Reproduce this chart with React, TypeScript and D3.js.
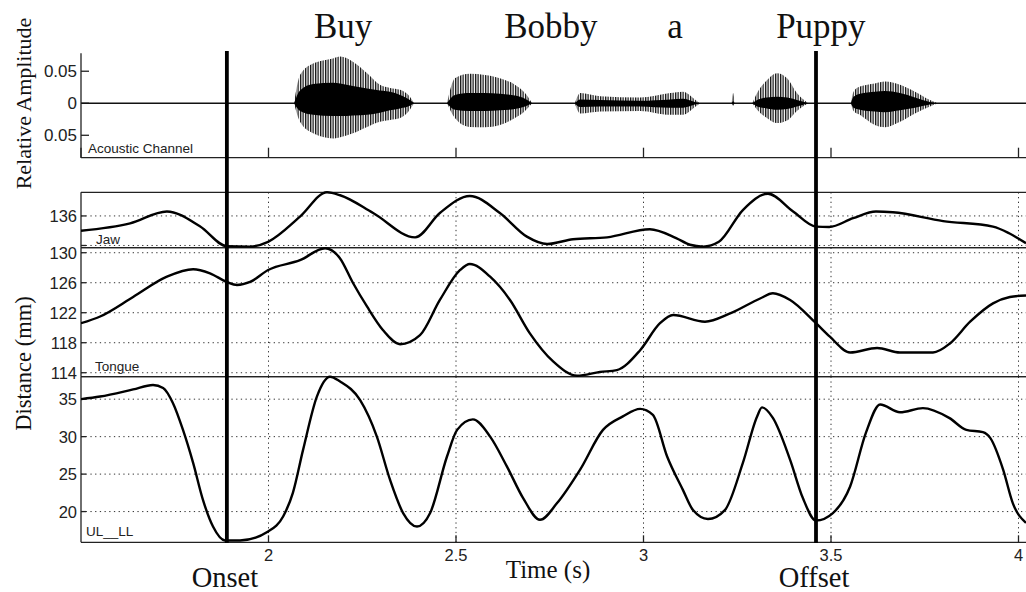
import React from 'react';
import * as d3 from 'd3';

// ---------- data ----------
const xTicks = [2, 2.5, 3, 3.5, 4];
const xTickLabels = ['2', '2.5', '3', '3.5', '4'];

const ampTicks = [0.05, 0, -0.05];
const ampTickLabels = ['0.05', '0', '0.05'];

const jawTicks = [132, 136];
const jawTickLabels = ['', '136'];
const tongueTicks = [114, 118, 122, 126, 130];
const tongueTickLabels = ['114', '118', '122', '126', '130'];
const lipTicks = [20, 25, 30, 35];
const lipTickLabels = ['20', '25', '30', '35'];

const words = ['Buy', 'Bobby', 'a', 'Puppy'];
const wordTimes = [2.199, 2.753, 3.084, 3.473];

const eventNames = ['Onset', 'Offset'];
const eventTimes = [1.889, 3.46];

const jawTime = [1.5, 1.631, 1.729, 1.817, 1.889, 1.951, 1.999, 2.084, 2.156, 2.191, 2.279, 2.391, 2.457, 2.537, 2.617, 2.689, 2.743, 2.812, 2.903, 3.017, 3.087, 3.124, 3.159, 3.201, 3.265, 3.332, 3.399, 3.46, 3.495, 3.559, 3.62, 3.665, 3.799, 3.932, 3.975, 4.02];
const jawValue = [134.0, 135.0, 136.6, 134.6, 131.9, 131.85, 132.5, 135.9, 139.2, 138.8, 136.4, 133.1, 136.4, 138.7, 136.4, 133.2, 132.2, 132.85, 133.1, 134.2, 133.0, 132.1, 131.85, 132.5, 136.8, 139.0, 136.6, 134.55, 134.5, 135.7, 136.6, 136.5, 135.3, 134.55, 133.65, 132.3];

const tongueTime = [1.5, 1.551, 1.639, 1.729, 1.799, 1.844, 1.889, 1.916, 1.951, 1.999, 2.084, 2.151, 2.19, 2.225, 2.263, 2.305, 2.351, 2.404, 2.457, 2.511, 2.537, 2.591, 2.644, 2.697, 2.759, 2.823, 2.884, 2.929, 2.991, 3.044, 3.079, 3.164, 3.231, 3.311, 3.345, 3.391, 3.46, 3.497, 3.551, 3.623, 3.684, 3.772, 3.817, 3.871, 3.932, 3.977, 4.02];
const tongueValue = [120.6, 121.5, 124.1, 126.8, 127.8, 127.25, 126.1, 125.7, 126.1, 127.7, 129.0, 130.6, 129.3, 126.0, 122.8, 119.7, 117.8, 119.0, 123.7, 127.7, 128.5, 126.8, 123.7, 119.25, 115.5, 113.6, 114.1, 114.35, 117.0, 120.6, 121.7, 120.8, 121.9, 123.9, 124.6, 123.7, 120.6, 118.8, 116.7, 117.3, 116.7, 116.7, 117.9, 120.8, 123.25, 124.1, 124.3];

const lipTime = [1.5, 1.551, 1.639, 1.692, 1.719, 1.745, 1.772, 1.799, 1.825, 1.852, 1.884, 1.924, 1.999, 2.039, 2.065, 2.092, 2.129, 2.164, 2.191, 2.244, 2.289, 2.324, 2.359, 2.396, 2.431, 2.476, 2.503, 2.545, 2.591, 2.636, 2.679, 2.724, 2.769, 2.831, 2.892, 2.945, 2.991, 3.025, 3.063, 3.105, 3.132, 3.172, 3.217, 3.265, 3.303, 3.316, 3.345, 3.391, 3.425, 3.46, 3.505, 3.551, 3.593, 3.631, 3.684, 3.745, 3.815, 3.861, 3.905, 3.925, 3.959, 3.985, 4.02];
const lipValue = [35.0, 35.35, 36.3, 36.9, 36.5, 34.5, 30.9, 26.5, 21.6, 18.0, 16.15, 16.15, 17.35, 19.35, 22.5, 28.2, 35.35, 38.0, 37.35, 34.9, 30.0, 24.25, 19.8, 18.0, 19.8, 27.35, 30.9, 32.3, 30.0, 26.0, 21.8, 18.9, 21.1, 25.6, 30.9, 32.7, 33.7, 32.9, 27.35, 22.9, 20.2, 19.0, 20.2, 26.5, 32.7, 33.9, 32.5, 26.9, 21.8, 18.8, 19.8, 23.35, 30.5, 34.3, 33.25, 33.8, 32.5, 30.9, 30.6, 29.8, 25.6, 21.1, 18.5];

// acoustic bursts: time, outer peak envelope (top/bottom), dense core (top/bottom)
const burstTime = [
  [2.068, 2.084, 2.119, 2.172, 2.191, 2.225, 2.263, 2.297, 2.324, 2.351, 2.377, 2.388],
  [2.476, 2.497, 2.537, 2.577, 2.617, 2.657, 2.684, 2.703],
  [2.817, 2.831, 2.884, 2.991, 3.071, 3.105, 3.137, 3.151],
  [3.235, 3.239, 3.243],
  [3.29, 3.303, 3.329, 3.356, 3.383, 3.409, 3.439],
  [3.553, 3.56, 3.577, 3.617, 3.644, 3.684, 3.724, 3.764, 3.785],
];
const burstTop = [
  [0, 0.044, 0.062, 0.070, 0.073, 0.065, 0.047, 0.029, 0.024, 0.021, 0.010, 0],
  [0, 0.039, 0.046, 0.044, 0.039, 0.029, 0.016, 0],
  [0, 0.016, 0.011, 0.009, 0.016, 0.018, 0.006, 0],
  [0, 0.016, 0],
  [0, 0.016, 0.036, 0.047, 0.039, 0.016, 0],
  [0, 0.018, 0.026, 0.031, 0.034, 0.029, 0.018, 0.005, 0],
];
const burstBottom = [
  [0, -0.029, -0.047, -0.055, -0.053, -0.047, -0.037, -0.029, -0.026, -0.023, -0.010, 0],
  [0, -0.023, -0.037, -0.0375, -0.034, -0.023, -0.012, 0],
  [0, -0.016, -0.013, -0.012, -0.018, -0.018, -0.006, 0],
  [0, -0.004, 0],
  [0, -0.010, -0.023, -0.031, -0.027, -0.012, 0],
  [0, -0.012, -0.018, -0.034, -0.0375, -0.029, -0.016, -0.005, 0],
];
const coreTop = [
  [0, 0.020, 0.030, 0.032, 0.031, 0.027, 0.023, 0.020, 0.018, 0.013, 0.005, 0],
  [0, 0.013, 0.016, 0.016, 0.015, 0.012, 0.007, 0],
  [0, 0.006, 0.005, 0.004, 0.006, 0.007, 0.002, 0],
  [0, 0.003, 0],
  [0, 0.005, 0.009, 0.010, 0.009, 0.005, 0],
  [0, 0.010, 0.015, 0.018, 0.019, 0.016, 0.009, 0.002, 0],
];
const coreBottom = [
  [0, -0.012, -0.018, -0.020, -0.020, -0.019, -0.018, -0.015, -0.011, -0.008, -0.004, 0],
  [0, -0.010, -0.012, -0.012, -0.011, -0.009, -0.005, 0],
  [0, -0.006, -0.005, -0.005, -0.007, -0.007, -0.002, 0],
  [0, -0.002, 0],
  [0, -0.005, -0.008, -0.010, -0.009, -0.005, 0],
  [0, -0.007, -0.010, -0.013, -0.014, -0.011, -0.007, -0.002, 0],
];

// ---------- layout ----------
const W = 1026;
const H = 592;
const SANS = '"Liberation Sans", Arial, Helvetica, sans-serif';
const SERIF = '"Liberation Serif", "Times New Roman", serif';

const x = d3.scaleLinear().domain([1.5, 4.02]).range([81, 1026]);
const yAmp = d3.scaleLinear().domain([-0.085, 0.078]).range([157.7, 53.3]);
const yJaw = d3.scaleLinear().domain([131.7, 139.2]).range([247.7, 192.3]);
const yTon = d3.scaleLinear().domain([113.47, 130.67]).range([376.7, 247.7]);
const yLip = d3.scaleLinear().domain([15.9, 38.0]).range([542.3, 376.7]);

const x0 = x.range()[0];
const x1 = x.range()[1];

function seriesPath(times: number[], vals: number[], y: d3.ScaleLinear<number, number>) {
  const pts = times.map((t, i) => [t, vals[i]] as [number, number]);
  return d3
    .line<[number, number]>()
    .x((d) => x(d[0]))
    .y((d) => y(d[1]))
    .curve(d3.curveMonotoneX)(pts) as string;
}

function envPath(times: number[], top: number[], bot: number[]) {
  const idx = times.map((_, i) => i);
  return d3
    .area<number>()
    .x((i) => x(times[i]))
    .y0((i) => yAmp(bot[i]))
    .y1((i) => yAmp(top[i]))
    .curve(d3.curveMonotoneX)(idx) as string;
}

const GRID = { stroke: '#333', strokeWidth: 1, strokeDasharray: '1.3,3.4' };
const AX = { stroke: '#222', strokeWidth: 1.3 };

function Panel({
  y,
  ticks,
  labels,
  name,
  nameX,
  nameY,
}: {
  y: d3.ScaleLinear<number, number>;
  ticks: number[];
  labels: string[];
  name: string;
  nameX: number;
  nameY: number;
}) {
  const [yb, yt] = y.range();
  return (
    <g>
      {ticks.map((v, i) => (
        <g key={'g' + i}>
          <line x1={x0} x2={x1} y1={y(v)} y2={y(v)} {...GRID} />
          <line x1={x0} x2={x0 + 5} y1={y(v)} y2={y(v)} {...AX} />
          {labels[i] && (
            <text x={77} y={y(v)} dy="0.36em" textAnchor="end" fontFamily={SANS} fontSize={16.5} fill="#222">
              {labels[i]}
            </text>
          )}
        </g>
      ))}
      {xTicks.map((t, i) => (
        <line key={'v' + i} x1={x(t)} x2={x(t)} y1={yt} y2={yb} {...GRID} />
      ))}
      <line x1={x0} x2={x1} y1={yt} y2={yt} {...AX} />
      <line x1={x0} x2={x1} y1={yb} y2={yb} {...AX} />
      <line x1={x0} x2={x0} y1={yt} y2={yb} {...AX} />
      <text x={nameX} y={nameY} fontFamily={SANS} fontSize={13.5} fill="#222">
        {name}
      </text>
    </g>
  );
}

export default function App() {
  const ampBottom = yAmp.range()[0];
  const ampTopY = yAmp.range()[1];
  const lipBottom = yLip.range()[0];
  return (
    <svg
      width={W}
      height={H}
      viewBox={`0 0 ${W} ${H}`}
      style={{ position: 'absolute', left: 0, top: 0, background: '#fff' }}
    >
      <defs>
        <pattern id="spk" patternUnits="userSpaceOnUse" width="2.5" height="10">
          <rect x="0" y="0" width="1.3" height="10" fill="#111" />
        </pattern>
        <clipPath id="plotclip">
          <rect x={x0} y={0} width={x1 - x0} height={H} />
        </clipPath>
      </defs>
      <rect x={0} y={0} width={W} height={H} fill="#fff" />

      {/* word labels */}
      {words.map((w, i) => (
        <text key={w} x={x(wordTimes[i])} y={38} textAnchor="middle" fontFamily={SERIF} fontSize={35} fill="#111">
          {w}
        </text>
      ))}

      {/* acoustic panel */}
      <g>
        {ampTicks.map((v, i) => (
          <g key={'a' + i}>
            <line x1={x0} x2={x0 + 8} y1={yAmp(v)} y2={yAmp(v)} {...AX} />
            <text x={77} y={yAmp(v)} dy="0.36em" textAnchor="end" fontFamily={SANS} fontSize={17} fill="#222">
              {ampTickLabels[i]}
            </text>
          </g>
        ))}
        {[1.5, ...xTicks].map((t, i) => (
          <line key={'at' + i} x1={x(t)} x2={x(t)} y1={ampBottom - 10} y2={ampBottom} {...AX} />
        ))}
        <g clipPath="url(#plotclip)">
          <line x1={x0} x2={x1} y1={yAmp(0)} y2={yAmp(0)} stroke="#111" strokeWidth={1.6} />
          {burstTime.map((bt, i) => (
            <g key={'b' + i}>
              <path d={envPath(bt, burstTop[i], burstBottom[i])} fill="url(#spk)" />
              <path d={envPath(bt, coreTop[i], coreBottom[i])} fill="#000" />
            </g>
          ))}
        </g>
        <line x1={x0} x2={x1} y1={ampBottom} y2={ampBottom} {...AX} />
        <line x1={x0} x2={x0} y1={ampTopY} y2={ampBottom} {...AX} />
        <text x={88} y={153} fontFamily={SANS} fontSize={13.5} fill="#222">
          Acoustic Channel
        </text>
      </g>

      {/* kinematic panels */}
      <Panel y={yJaw} ticks={jawTicks} labels={jawTickLabels} name="Jaw" nameX={96} nameY={244} />
      <Panel y={yTon} ticks={tongueTicks} labels={tongueTickLabels} name="Tongue" nameX={95} nameY={371} />
      <Panel y={yLip} ticks={lipTicks} labels={lipTickLabels} name="UL__LL" nameX={86} nameY={536} />

      <g clipPath="url(#plotclip)" fill="none" stroke="#000" strokeWidth={2.4} strokeLinejoin="round">
        <path d={seriesPath(jawTime, jawValue, yJaw)} />
        <path d={seriesPath(tongueTime, tongueValue, yTon)} />
        <path d={seriesPath(lipTime, lipValue, yLip)} />
      </g>

      {/* bottom x axis */}
      {xTicks.map((t, i) => (
        <g key={'xt' + i}>
          <line x1={x(t)} x2={x(t)} y1={lipBottom - 7} y2={lipBottom} {...AX} />
          <text x={x(t)} y={561} textAnchor="middle" fontFamily={SANS} fontSize={16.5} fill="#222">
            {xTickLabels[i]}
          </text>
        </g>
      ))}

      {/* onset / offset markers */}
      {eventTimes.map((t, i) => (
        <g key={'ev' + i}>
          <line x1={x(t)} x2={x(t)} y1={51} y2={543} stroke="#000" strokeWidth={3.8} />
          <text x={x(t) - 2} y={587} textAnchor="middle" fontFamily={SERIF} fontSize={28.5} fill="#111">
            {eventNames[i]}
          </text>
        </g>
      ))}

      {/* axis titles */}
      <text x={548} y={578} textAnchor="middle" fontFamily={SERIF} fontSize={25} fill="#111">
        Time (s)
      </text>
      <text
        transform="translate(31,103.5) rotate(-90)"
        textAnchor="middle"
        fontFamily={SERIF}
        fontSize={22}
        fill="#111"
      >
        Relative Amplitude
      </text>
      <text
        transform="translate(31,363.5) rotate(-90)"
        textAnchor="middle"
        fontFamily={SERIF}
        fontSize={22.5}
        fill="#111"
      >
        Distance (mm)
      </text>
    </svg>
  );
}
